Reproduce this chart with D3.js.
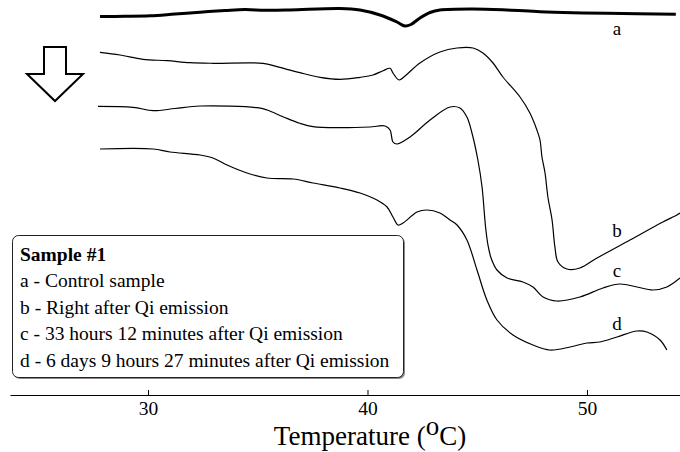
<!DOCTYPE html>
<html>
<head>
<meta charset="utf-8">
<script src="https://cdn.jsdelivr.net/npm/d3@7"></script>
<style>
  body { margin: 0; background: #fff; }
  svg { display: block; font-family: "Liberation Serif", "Times New Roman", serif; }
</style>
</head>
<body>
<div id="chart"></div>
<script>
// DSC traces, [temperature (C), heat flow (arb. units, offset per trace)]
var curveA = [[27.81,38.35],[28.95,38.37],[30.09,38.42],[31.23,38.6],[32.37,38.78],[33.51,38.95],[34.42,39.05],[35.33,38.97],[36.47,39.0],[38.75,39.15],[39.66,39.0],[40.57,38.5],[41.34,37.8],[41.71,37.4],[41.98,37.55],[42.39,38.2],[42.85,38.75],[43.30,39.0],[44.81,39.1],[46.36,39.0],[47.86,38.83],[49.36,38.73],[50.91,38.67],[54.05,38.58]];

var curveB = [[27.81,34.77],[28.72,34.5],[29.77,34.07],[30.87,33.93],[31.91,33.73],[32.96,33.67],[35.24,33.67],[35.88,33.33],[36.92,32.73],[37.84,32.27],[38.75,32.07],[39.66,32.27],[40.25,32.5],[40.71,32.93],[41.03,33.17],[41.16,32.7],[41.44,32.0],[41.71,32.4],[42.39,33.7],[43.30,34.8],[44.08,35.2],[44.81,35.2],[45.26,34.7],[45.72,33.7],[46.17,32.3],[46.95,30.3],[47.40,28.7],[47.72,27.0],[47.86,26.0],[47.95,24.3],[48.09,22.7],[48.22,20.3],[48.41,18.0],[48.54,15.3],[48.68,13.8],[49.09,13.1],[49.68,13.2],[50.46,14.2],[51.96,16.0],[53.46,17.8],[54.10,18.5],[54.24,18.7]];

var curveC = [[27.72,29.37],[29.32,29.27],[30.23,28.93],[31.23,29.15],[32.37,29.4],[34.97,29.23],[35.42,29.0],[36.15,28.33],[36.92,27.67],[37.52,27.33],[38.75,27.23],[40.11,27.3],[40.80,27.4],[41.03,27.0],[41.16,25.8],[41.34,25.6],[41.94,26.3],[42.85,28.0],[43.76,29.3],[44.21,29.2],[44.53,28.3],[44.76,26.7],[45.03,24.0],[45.22,21.3],[45.38,17.3],[45.49,15.5],[45.63,14.2],[45.90,13.0],[46.36,12.2],[47.08,11.8],[47.54,11.3],[48.00,10.3],[48.63,9.9],[49.68,10.3],[50.73,11.2],[51.50,11.6],[52.28,11.3],[53.01,11.0],[53.64,11.3],[54.24,12.2]];

var curveD = [[27.81,25.1],[30.23,25.1],[31.00,24.8],[32.37,24.5],[32.96,24.2],[33.60,23.5],[34.51,22.7],[35.42,22.2],[36.61,22.1],[37.52,21.7],[38.75,21.2],[39.66,20.7],[40.43,20.0],[40.89,19.3],[41.16,18.3],[41.39,17.5],[41.62,17.7],[42.26,18.8],[42.71,19.0],[43.30,18.7],[43.76,18.0],[44.08,17.5],[44.53,16.0],[44.99,13.0],[45.44,10.0],[45.90,8.0],[46.63,6.5],[47.54,5.5],[48.31,5.0],[49.23,5.3],[50.00,5.7],[50.59,5.8],[51.37,6.3],[52.28,6.9],[52.73,6.8],[53.33,6.0],[53.64,5.0]];

var curveNames = ['a', 'b', 'c', 'd'];
var curveWidths = [3, 1.2, 1.2, 1.2];
// where each trace letter sits, [temperature, heat flow]
var labelPos = [[51.37,36.5],[51.37,16.3],[51.37,12.3],[51.37,7.0]];

var xTicks = [30, 40, 50];
var legendTitle = 'Sample #1';
var legendLines = ['a - Control sample', 'b - Right after Qi emission', 'c - 33 hours 12 minutes after Qi emission', 'd - 6 days 9 hours 27 minutes after Qi emission'];

var W = 680, H = 452;

var x = d3.scaleLinear().domain([23.71, 54.24]).range([10, 680]);
var y = d3.scaleLinear().domain([0, 40]).range([400, 0]);

var svg = d3.select('#chart').append('svg')
  .attr('width', W)
  .attr('height', H);

var line = d3.line()
  .x(d => x(d[0]))
  .y(d => y(d[1]))
  .curve(d3.curveCatmullRom.alpha(0.5));

svg.selectAll('path.trace')
  .data([curveA, curveB, curveC, curveD])
  .enter()
  .append('path')
  .attr('class', 'trace')
  .attr('d', line)
  .attr('fill', 'none')
  .attr('stroke', '#000')
  .attr('stroke-width', (d, i) => curveWidths[i])
  .attr('stroke-linejoin', 'round');

svg.selectAll('text.tlabel')
  .data(curveNames)
  .enter()
  .append('text')
  .attr('class', 'tlabel')
  .attr('x', (d, i) => x(labelPos[i][0]))
  .attr('y', (d, i) => y(labelPos[i][1]))
  .attr('text-anchor', 'middle')
  .style('font-size', '19px')
  .text(d => d);

// cooling arrow
svg.append('polygon')
  .attr('points', '44,47 66,47 66,74 83,74 55,101 27,74 44,74')
  .attr('fill', '#fff')
  .attr('stroke', '#000')
  .attr('stroke-width', 2)
  .attr('stroke-linejoin', 'miter');

// x axis
var xAxis = d3.axisBottom(x)
  .tickValues(xTicks)
  .tickSize(-5)
  .tickSizeOuter(0)
  .tickPadding(6.5);

var gx = svg.append('g')
  .attr('transform', 'translate(0,395)')
  .call(xAxis);
gx.select('.domain').attr('stroke', '#000').attr('stroke-width', 1.2);
gx.selectAll('.tick line').attr('stroke', '#000');
gx.selectAll('.tick text')
  .attr('fill', '#000')
  .style('font-family', '"Liberation Serif", serif')
  .style('font-size', '19.5px');

var title = svg.append('text')
  .attr('x', 370)
  .attr('y', 445)
  .attr('text-anchor', 'middle')
  .style('font-size', '27px');
title.append('tspan').text('Temperature (');
title.append('tspan').attr('dy', -10).text('o');
title.append('tspan').attr('dy', 10).text('C)');

// legend
var lg = svg.append('g');
lg.append('rect')
  .attr('x', 14).attr('y', 237)
  .attr('width', 391).attr('height', 142)
  .attr('rx', 6)
  .attr('fill', '#888');
lg.append('rect')
  .attr('x', 12.5).attr('y', 235.5)
  .attr('width', 391).attr('height', 142)
  .attr('rx', 6)
  .attr('fill', '#fff')
  .attr('stroke', '#222')
  .attr('stroke-width', 1);
lg.append('text')
  .attr('x', 20).attr('y', 260.5)
  .style('font-size', '19.5px')
  .style('font-weight', 'bold')
  .text(legendTitle);
lg.selectAll('text.item')
  .data(legendLines)
  .enter()
  .append('text')
  .attr('class', 'item')
  .attr('x', 20)
  .attr('y', (d, i) => 287 + i * 26.5)
  .style('font-size', '19.5px')
  .text(d => d);
</script>
</body>
</html>
